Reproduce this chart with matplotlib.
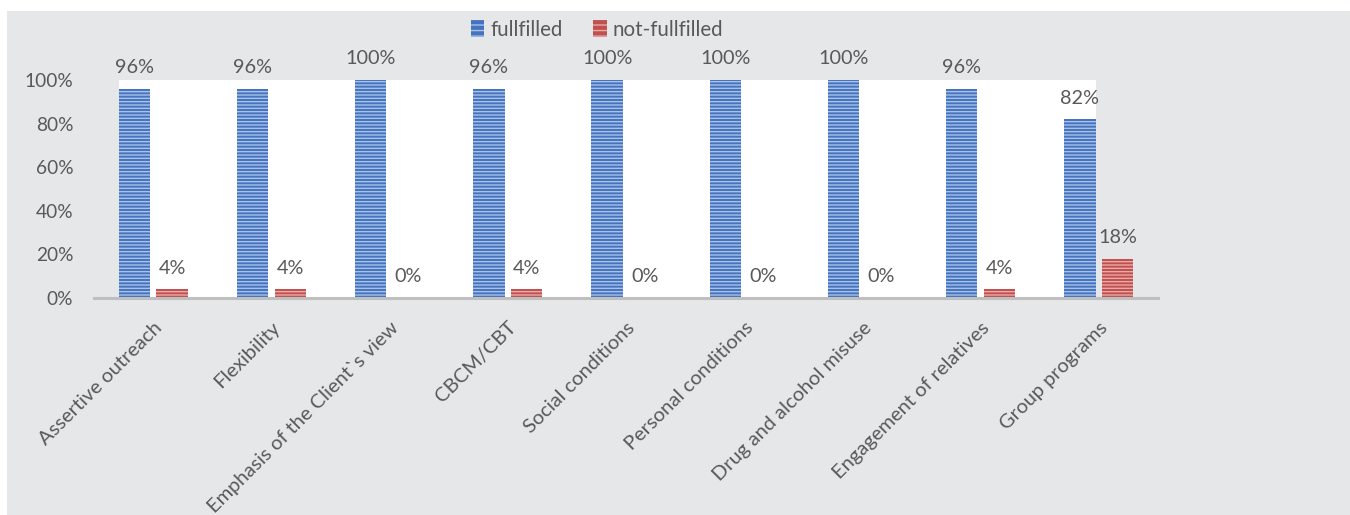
import matplotlib.pyplot as plt
import numpy as np
from matplotlib.patches import Rectangle, Patch

# Data
categories = ['Assertive outreach', 'Flexibility', 'Emphasis of the Client`s view',
              'CBCM/CBT', 'Social conditions', 'Personal conditions',
              'Drug and alcohol misuse', 'Engagement of relatives', 'Group programs']
fulfilled = [0.96, 0.96, 1.00, 0.96, 1.00, 1.00, 1.00, 0.96, 0.82]
not_fulfilled = [0.04, 0.04, 0.00, 0.04, 0.00, 0.00, 0.00, 0.04, 0.18]
series_names = ['fullfilled', 'not-fullfilled']

plt.rcParams['font.family'] = ['Lato', 'DejaVu Sans']
plt.rcParams['hatch.linewidth'] = 1.0
TXT = '#595959'
BG = '#E6E7E9'
FS = 14.3

fig = plt.figure(figsize=(13.5, 5.15), dpi=100, facecolor='white')
# gray chart area (white strip at top and left like the screenshot)
fig.patches.append(Rectangle((7 / 1350, 0), 1, 1 - 11 / 515, transform=fig.transFigure,
                             facecolor=BG, edgecolor='none', zorder=-10))

ax = fig.add_axes([94 / 1350, 1 - 298 / 515, 1064 / 1350, 218 / 515])
ax.set_facecolor('none')

x = np.arange(len(categories))
w = 0.265
off = 0.16

# white plot area (clipped like in the original)
ax.axvspan(x[0] - off - w / 2, x[-1] - off + w / 2, 0, 1.0, facecolor='white',
           edgecolor='none', zorder=0)

b1 = ax.bar(x - off, fulfilled, w, color='#4673BF', edgecolor='#A9C2E8', lw=0,
            hatch='-----', zorder=2, clip_on=False)
b2 = ax.bar(x + off, not_fulfilled, w, color='#C0504D', edgecolor='#E9AAA8', lw=0,
            hatch='-----', zorder=2, clip_on=False)

for bars in (b1, b2):
    ax.bar_label(bars, labels=[f'{v:.0%}' for v in bars.datavalues], padding=9,
                 fontsize=FS, color=TXT)

ax.set_xlim(-0.5, len(categories) - 0.5)
ax.set_ylim(0, 1)
ax.set_yticks(np.arange(0, 1.01, 0.2))
ax.set_yticklabels([f'{v:.0%}' for v in np.arange(0, 1.01, 0.2)])
ax.tick_params(axis='y', length=0, pad=15, labelsize=13.8, labelcolor=TXT)
ax.set_xticks(x)
ax.set_xticklabels(categories, rotation=45, ha='right', rotation_mode='anchor',
                   fontsize=FS + 0.2, color=TXT)
ax.tick_params(axis='x', length=0, pad=15)

for s in ['top', 'right', 'left']:
    ax.spines[s].set_visible(False)
ax.spines['bottom'].set_color('#BFBFBF')
ax.spines['bottom'].set_linewidth(2.2)
ax.spines['bottom'].set_zorder(3)

handles = [Patch(facecolor='#4673BF', edgecolor='#A9C2E8', hatch='---', lw=0),
           Patch(facecolor='#C0504D', edgecolor='#E9AAA8', hatch='---', lw=0)]
fig.legend(handles, series_names, loc='center', bbox_to_anchor=(597 / 1350, 1 - 30 / 515),
           ncol=2, frameon=False, fontsize=FS + 0.5, labelcolor=TXT, handlelength=0.65,
           handleheight=0.9, handletextpad=0.3, columnspacing=1.5)

fig.savefig('out.png', dpi=100, facecolor='white')
